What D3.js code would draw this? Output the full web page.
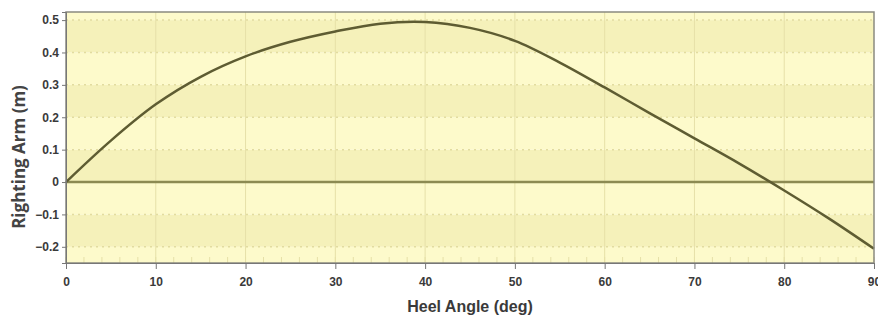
<!DOCTYPE html>
<html>
<head>
<meta charset="utf-8">
<script src="https://cdn.jsdelivr.net/npm/d3@7"></script>
<style>
  body { margin: 0; background: #fff; }
  .tick text { font-family: "Liberation Sans Narrow", "Arial Narrow", sans-serif; font-weight: bold; font-size: 12px; fill: #3a3a3a; }
  .axis-label { font-family: "Liberation Sans Narrow", "Arial Narrow", sans-serif; font-weight: bold; fill: #3a3a3a; }
</style>
</head>
<body>
<svg id="chart" width="878" height="324"></svg>
<script>
// Heel angle (deg) and righting arm (m)
const heelAngles = [0, 5, 10, 15, 20, 25, 30, 35, 40, 45, 50, 55, 60, 65, 70, 75, 80, 85, 90];
const rightingArm = [0, 0.128, 0.24, 0.325, 0.388, 0.433, 0.465, 0.489, 0.494, 0.476, 0.436, 0.369, 0.292, 0.213, 0.135, 0.057, -0.026, -0.113, -0.206];
const xTicks = [0, 10, 20, 30, 40, 50, 60, 70, 80, 90];
const yTicks = [-0.2, -0.1, 0, 0.1, 0.2, 0.3, 0.4, 0.5];
const bandEdges = [-0.25, -0.2, -0.1, 0, 0.1, 0.2, 0.3, 0.4, 0.5, 0.525];

const svg = d3.select("#chart");
const width = 878, height = 324;
const margin = { top: 12, right: 4, bottom: 61, left: 66 };

const x = d3.scaleLinear()
  .domain([0, 90])
  .range([margin.left, width - margin.right]);

const y = d3.scaleLinear()
  .domain([-0.25, 0.525])
  .range([height - margin.bottom, margin.top]);

// Background bands, alternating shades
const bands = d3.pairs(bandEdges);
svg.append("g")
  .selectAll("rect")
  .data(bands)
  .join("rect")
  .attr("x", x(0))
  .attr("width", x(90) - x(0))
  .attr("y", d => y(d[1]))
  .attr("height", d => y(d[0]) - y(d[1]))
  .attr("fill", (d, i) => (i % 2 === 1 && d[0] !== 0.5) ? "#f5f1ba" : "#fdfacb");

// Dotted grid lines
svg.append("g")
  .selectAll("line")
  .data(yTicks)
  .join("line")
  .attr("x1", x(0)).attr("x2", x(90))
  .attr("y1", d => y(d)).attr("y2", d => y(d))
  .attr("stroke", "#e2dca0")
  .attr("stroke-width", 1.5)
  .attr("stroke-dasharray", "2,4");

svg.append("g")
  .selectAll("line")
  .data(xTicks.slice(1, -1))
  .join("line")
  .attr("x1", d => x(d)).attr("x2", d => x(d))
  .attr("y1", y(0.525)).attr("y2", y(-0.25))
  .attr("stroke", "#e6e0a8")
  .attr("stroke-width", 1);

// Minor ticks inside along the bottom
svg.append("g")
  .selectAll("line")
  .data(d3.range(0, 91, 2))
  .join("line")
  .attr("x1", d => x(d)).attr("x2", d => x(d))
  .attr("y1", y(-0.25)).attr("y2", y(-0.25) - 6)
  .attr("stroke", "#e6e0a8")
  .attr("stroke-width", 1);

// Zero line
svg.append("line")
  .attr("x1", x(0)).attr("x2", x(90))
  .attr("y1", y(0)).attr("y2", y(0))
  .attr("stroke", "#8c8a52")
  .attr("stroke-width", 2.5);

// Righting arm curve
const data = heelAngles.map((a, i) => ({ angle: a, arm: rightingArm[i] }));
const line = d3.line()
  .x(d => x(d.angle))
  .y(d => y(d.arm))
  .curve(d3.curveCatmullRom);

svg.append("path")
  .datum(data)
  .attr("fill", "none")
  .attr("stroke", "#5e5c32")
  .attr("stroke-width", 2.5)
  .attr("d", line);

// Frame
svg.append("rect")
  .attr("x", x(0)).attr("y", y(0.525))
  .attr("width", x(90) - x(0))
  .attr("height", y(-0.25) - y(0.525))
  .attr("fill", "none")
  .attr("stroke", "#8a8a80")
  .attr("stroke-width", 1.5);

// Axes
const xAxis = svg.append("g")
  .attr("transform", `translate(0,${y(-0.25)})`)
  .call(d3.axisBottom(x).tickValues(xTicks).tickSize(6).tickPadding(8).tickFormat(d3.format("d")));
xAxis.select(".domain").attr("stroke", "#777");
xAxis.selectAll(".tick line").attr("stroke", "#777");

const yAxis = svg.append("g")
  .attr("transform", `translate(${x(0)},0)`)
  .call(d3.axisLeft(y).tickValues(yTicks).tickSize(4).tickPadding(3)
    .tickFormat(d => d === 0 ? "0" : d3.format(".1f")(d)));
yAxis.select(".domain").attr("stroke", "#777");
yAxis.selectAll(".tick line").attr("stroke", "#777");

// Labels
svg.append("text")
  .attr("class", "axis-label")
  .attr("x", (x(0) + x(90)) / 2)
  .attr("y", 312)
  .style("text-anchor", "middle")
  .style("font-size", "16px")
  .text("Heel Angle (deg)");

svg.append("text")
  .attr("class", "axis-label")
  .attr("transform", "rotate(-90)")
  .attr("x", -157)
  .attr("y", 25)
  .style("text-anchor", "middle")
  .style("font-size", "17px")
  .style("font-family", "'Open Sans', sans-serif")
  .style("font-weight", "bold")
  .style("fill", "#444")
  .text("Righting Arm (m)");
</script>
</body>
</html>
